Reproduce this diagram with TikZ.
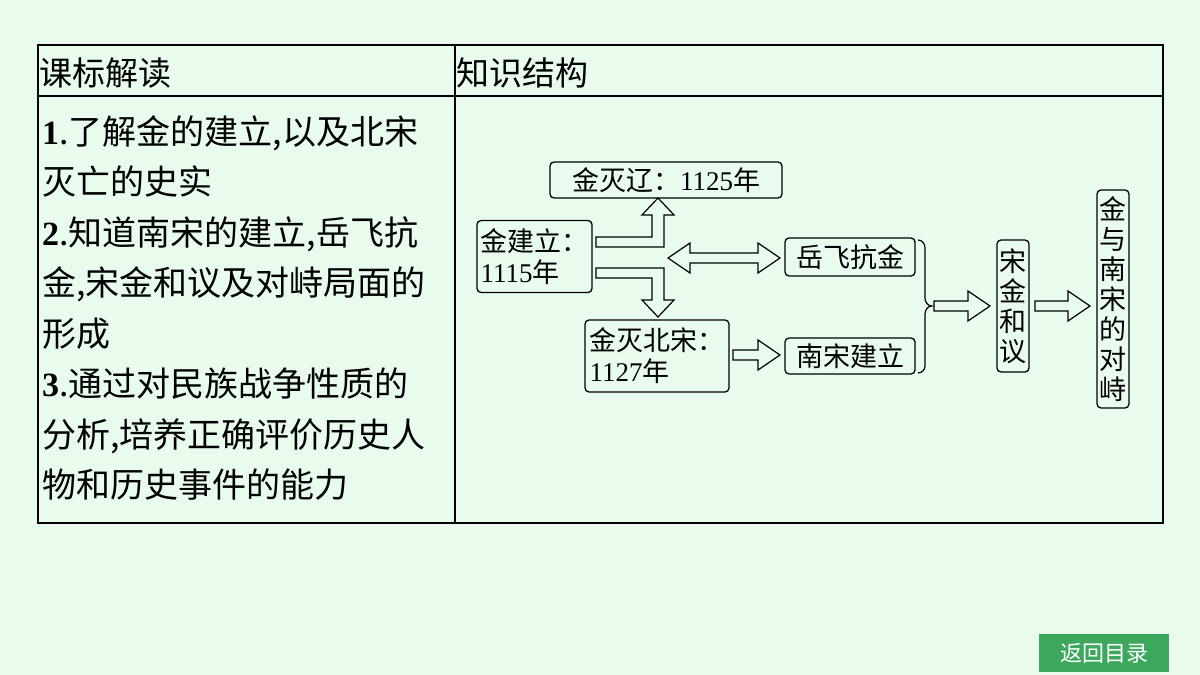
\documentclass[tikz,border=0pt]{standalone}
\usepackage{fontspec}
\setmainfont{Noto Sans CJK SC}
\newfontfamily\numfont{Liberation Serif}
\usetikzlibrary{positioning}
\definecolor{bgmint}{RGB}{233,251,237}
\definecolor{btngreen}{RGB}{60,168,92}
\tikzset{
  box/.style={draw, line width=1.3pt, rounded corners=4pt, fill=bgmint, inner sep=2pt, font=\fontsize{27}{31}\selectfont, align=left},
  vbox/.style={box, align=center, text width=28pt, inner sep=2pt, font=\fontsize{27}{30}\selectfont},
  blk/.style={draw, line width=1.2pt, fill=bgmint, line join=miter},
}
% hollow horizontal arrow: left x, tip x, centre y
\newcommand{\harrow}[3]{\draw[blk] (#1,#3-5) -- (#2-22,#3-5) -- (#2-22,#3-15) -- (#2,#3) -- (#2-22,#3+15) -- (#2-22,#3+5) -- (#1,#3+5) -- cycle;}
\begin{document}
\begin{tikzpicture}[x=1pt,y=-1pt]
  \fill[bgmint] (0,0) rectangle (1200,675);
  \useasboundingbox (0,0) rectangle (1200,675);
  % table
  \draw[line width=1.5pt] (38,45) rectangle (1163,523);
  \draw[line width=1.2pt] (38,96) -- (1163,96);
  \draw[line width=1.2pt] (455,45) -- (455,523);
  \node[anchor=west, inner sep=1pt, font=\fontsize{33}{34}\selectfont] (hl) at (38,73) {课标解读};
  \node[anchor=west, inner sep=1pt, font=\fontsize{33}{34}\selectfont] (hr) at (455,73) {知识结构};
  \node[anchor=north west, text width=410pt, align=left, inner sep=0pt, font=\fontsize{34}{50.5}\selectfont] (goals) at (42,115)
    {{\numfont\bfseries 1}.了解金的建立,以及北宋\\灭亡的史实\\{\numfont\bfseries 2}.知道南宋的建立,岳飞抗\\金,宋金和议及对峙局面的\\形成\\{\numfont\bfseries 3}.通过对民族战争性质的\\分析,培养正确评价历史人\\物和历史事件的能力};
  % structure
  \node[box, minimum width=232pt, minimum height=36pt, align=center] (liao) at (666,180) {金灭辽：{\numfont 1125}年};
  \node[box, minimum width=115pt, minimum height=72pt] (jin) at (534.5,256.5) {金建立：\\{\numfont 1115}年};
  \node[box, minimum width=144pt, minimum height=72pt] (bs) at (657,356) {金灭北宋：\\{\numfont 1127}年};
  \node[box, minimum width=130pt, minimum height=38pt, align=center] (yf) at (850,257) {岳飞抗金};
  \node[box, minimum width=130pt, minimum height=36pt, align=center] (ns) at (850,356) {南宋建立};
  \node[vbox, minimum height=132pt] (hy) at (1013,306) {宋\\金\\和\\议};
  \node[vbox, minimum height=218pt] (dz) at (1113,299) {金\\与\\南\\宋\\的\\对\\峙};
  % arrows
  \draw[blk] (596,237) -- (652,237) -- (652,215) -- (642,215) -- (658,198) -- (674,215) -- (664,215) -- (664,247) -- (596,247) -- cycle;
  \draw[blk] (596,268) -- (664,268) -- (664,300) -- (674,300) -- (658,317) -- (642,300) -- (652,300) -- (652,278) -- (596,278) -- cycle;
  \draw[blk] (668,258) -- (690,243) -- (690,253) -- (758,253) -- (758,243) -- (780,258) -- (758,273) -- (758,263) -- (690,263) -- (690,273) -- cycle;
  \harrow{733}{780}{355}
  \harrow{934}{990}{306}
  \harrow{1035}{1090}{306}
  % brace
  \draw[line width=1.2pt] (918,240) to[out=0,in=90] (925,248) -- (925,298) to[out=-90,in=180] (932,306) to[out=180,in=90] (925,314) -- (925,366) to[out=-90,in=0] (918,373);
  % button
  \node[fill=btngreen, text=white, minimum width=130pt, minimum height=38pt, inner sep=0pt, font=\fontsize{22}{24}\selectfont] (back) at (1104,653) {返回目录};
\end{tikzpicture}
\end{document}
